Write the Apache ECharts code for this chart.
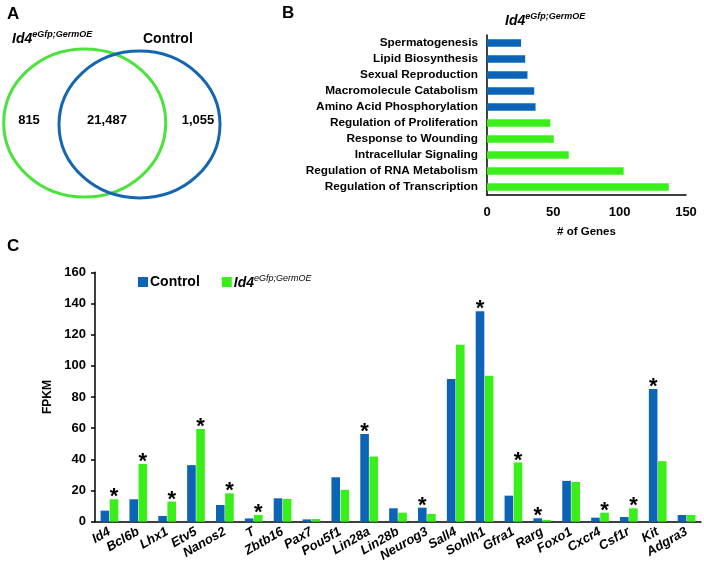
<!DOCTYPE html>
<html>
<head>
<meta charset="utf-8">
<script src="https://cdn.jsdelivr.net/npm/echarts@6/dist/echarts.min.js"></script>
<style>html,body{margin:0;padding:0;background:#fff}#c{width:704px;height:572px}</style>
</head>
<body>
<div id="c"></div>
<script>
// ---- Panel A: Venn counts ----
var vennSets = ['Id4', 'Control'];
var vennCounts = [815, 21487, 1055]; // only Id4 OE, shared, only Control

// ---- Panel B: GO terms ----
var goTerms = ['Spermatogenesis', 'Lipid Biosynthesis', 'Sexual Reproduction', 'Macromolecule Catabolism',
  'Amino Acid Phosphorylation', 'Regulation of Proliferation', 'Response to Wounding',
  'Intracellular Signaling', 'Regulation of RNA Metabolism', 'Regulation of Transcription'];
var goCounts = [25.7, 28.8, 30.5, 35.6, 36.6, 47.7, 50.3, 61.6, 103, 137];
var goGroup = ['Control', 'Control', 'Control', 'Control', 'Control', 'Id4', 'Id4', 'Id4', 'Id4', 'Id4'];
var goTicks = [0, 50, 100, 150];

// ---- Panel C: FPKM ----
var genes = ['Id4', 'Bcl6b', 'Lhx1', 'Etv5', 'Nanos2', 'T', 'Zbtb16', 'Pax7', 'Pou5f1', 'Lin28a', 'Lin28b',
  'Neurog3', 'Sall4', 'Sohlh1', 'Gfra1', 'Rarg', 'Foxo1', 'Cxcr4', 'Csf1r', 'Kit', 'Adgra3'];
var controlFpkm = [7.1, 14.4, 3.7, 36.3, 10.7, 2.1, 15, 1.5, 28.5, 56.2, 8.6, 9, 91.6, 135, 16.7, 2.2, 26.2, 2.6, 3, 85.1, 4.3];
var oeFpkm = [14.4, 37.1, 12.9, 59.4, 18.2, 4.3, 14.6, 1.7, 20.4, 41.8, 5.8, 5, 113.6, 93.7, 38, 1.1, 25.5, 5.8, 8.6, 38.8, 4.3];
var significant = [1, 1, 1, 1, 1, 1, 0, 0, 0, 1, 0, 1, 0, 1, 1, 1, 0, 1, 1, 1, 0];
var fpkmTicks = [0, 20, 40, 60, 80, 100, 120, 140, 160];

var BLUE = '#0b64b6';
var GREEN = '#3aee1a';
var VGREEN = '#4ae23c';
var FONT = '"Liberation Sans", Arial, sans-serif';

var oeRich = {
  a: {fontFamily: FONT, fontSize: 14, fontWeight: 'bold', fontStyle: 'italic', color: '#000', verticalAlign: 'bottom', lineHeight: 16},
  b: {fontFamily: FONT, fontSize: 9, fontStyle: 'italic', color: '#000', verticalAlign: 'top', lineHeight: 16, padding: [0, 0, 6, 0]}
};
var oeLabel = '{a|Id4}{b|eGfp;GermOE}';

function fmtNum(n) { return n.toLocaleString('en-US'); }

function sigData(own, other) {
  return own.map(function (v, i) {
    var item = {value: v};
    if (significant[i] && v >= other[i]) {
      item.label = {show: true};
    }
    return item;
  });
}

var starLabel = {
  show: false, position: 'top', distance: -8, formatter: '*',
  fontFamily: FONT, fontSize: 22, fontWeight: 'bold', color: '#000', lineHeight: 20
};

var chart = echarts.init(document.getElementById('c'), null, {renderer: 'canvas'});
chart.setOption({
  animation: false,
  backgroundColor: '#fff',
  textStyle: {fontFamily: FONT},
  title: [
    {text: 'A', left: 2, top: 1, textStyle: {fontFamily: FONT, fontSize: 17, fontWeight: 'bold', color: '#000'}},
    {text: 'B', left: 277, top: 0, textStyle: {fontFamily: FONT, fontSize: 17, fontWeight: 'bold', color: '#000'}},
    {text: 'C', left: 2, top: 233, textStyle: {fontFamily: FONT, fontSize: 17, fontWeight: 'bold', color: '#000'}},
    {text: oeLabel, left: 500, top: 7, textStyle: {rich: oeRich}},
    {text: oeLabel, left: 7, top: 25, textStyle: {rich: oeRich}},
    {text: vennSets[1], left: 138, top: 27, textStyle: {fontFamily: FONT, fontSize: 14, fontWeight: 'bold', color: '#000'}}
  ],
  graphic: [
    {type: 'ellipse', shape: {cx: 84.7, cy: 123, rx: 81, ry: 74}, style: {fill: 'none', stroke: VGREEN, lineWidth: 3}},
    {type: 'ellipse', shape: {cx: 139.5, cy: 124.5, rx: 80.5, ry: 73.5}, style: {fill: 'none', stroke: '#1466b0', lineWidth: 3}},
    {type: 'text', style: {text: fmtNum(vennCounts[0]), x: 29, y: 120, textAlign: 'center', textVerticalAlign: 'middle', font: 'bold 13px ' + FONT, fill: '#000'}},
    {type: 'text', style: {text: fmtNum(vennCounts[1]), x: 107, y: 120, textAlign: 'center', textVerticalAlign: 'middle', font: 'bold 13px ' + FONT, fill: '#000'}},
    {type: 'text', style: {text: fmtNum(vennCounts[2]), x: 198, y: 120, textAlign: 'center', textVerticalAlign: 'middle', font: 'bold 13px ' + FONT, fill: '#000'}}
  ],
  legend: {
    left: 138, top: 274, padding: 0, itemWidth: 10, itemHeight: 10, itemGap: 22,
    icon: 'rect', selectedMode: false,
    data: ['Control', 'Id4'],
    formatter: function (n) { return n === 'Id4' ? '{a|Id4}{b|eGfp;GermOE}' : '{c|' + n + '}'; },
    textStyle: {padding: [0, 0, 0, -3], rich: {
      a: oeRich.a, b: oeRich.b,
      c: {fontFamily: FONT, fontSize: 14, fontWeight: 'bold', color: '#000', lineHeight: 16}
    }}
  },
  grid: [
    {left: 487, top: 35, width: 199, height: 160},
    {left: 95, top: 272.3, width: 606, height: 249.4}
  ],
  xAxis: [
    {gridIndex: 0, type: 'value', min: goTicks[0], max: goTicks[goTicks.length - 1], interval: goTicks[1] - goTicks[0],
      axisLine: {show: true, lineStyle: {color: '#000', width: 1.5}}, axisTick: {show: false}, splitLine: {show: false},
      axisLabel: {margin: 11, fontFamily: FONT, fontSize: 13, fontWeight: 'bold', color: '#000'},
      name: '# of Genes', nameLocation: 'middle', nameGap: 31,
      nameTextStyle: {fontFamily: FONT, fontSize: 11.5, fontWeight: 'bold', color: '#000'}},
    {gridIndex: 1, type: 'category', data: genes,
      axisLine: {show: true, lineStyle: {color: '#000', width: 1.5}}, axisTick: {show: false},
      axisLabel: {interval: 0, rotate: 30, margin: 9, fontFamily: FONT, fontSize: 13, fontWeight: 'bold', fontStyle: 'italic', color: '#000'}}
  ],
  yAxis: [
    {gridIndex: 0, type: 'category', data: goTerms, inverse: true,
      axisLine: {show: true, lineStyle: {color: '#000', width: 1.5}}, axisTick: {show: false},
      axisLabel: {margin: 9, fontFamily: FONT, fontSize: 11.8, fontWeight: 'bold', color: '#000'}},
    {gridIndex: 1, type: 'value', min: fpkmTicks[0], max: fpkmTicks[fpkmTicks.length - 1], interval: fpkmTicks[1] - fpkmTicks[0],
      axisLine: {show: true, lineStyle: {color: '#000', width: 1.5}},
      axisTick: {show: true, length: 4, lineStyle: {color: '#000', width: 1.5}}, splitLine: {show: false},
      axisLabel: {margin: 9, fontFamily: FONT, fontSize: 13, fontWeight: 'bold', color: '#000'},
      name: 'FPKM', nameLocation: 'middle', nameGap: 41,
      nameTextStyle: {fontFamily: FONT, fontSize: 12, fontWeight: 'bold', color: '#000'}}
  ],
  series: [
    {type: 'bar', xAxisIndex: 0, yAxisIndex: 0, barWidth: 7.5,
      data: goCounts.map(function (v, i) { return {value: v, itemStyle: {color: goGroup[i] === 'Control' ? BLUE : GREEN}}; })},
    {name: 'Control', type: 'bar', xAxisIndex: 1, yAxisIndex: 1, barWidth: 8.6, barGap: '6%',
      itemStyle: {color: BLUE}, label: starLabel, data: sigData(controlFpkm, oeFpkm)},
    {name: 'Id4', type: 'bar', xAxisIndex: 1, yAxisIndex: 1, barWidth: 8.6, barGap: '6%',
      itemStyle: {color: GREEN}, label: starLabel, data: sigData(oeFpkm, controlFpkm)}
  ]
});
</script>
</body>
</html>
